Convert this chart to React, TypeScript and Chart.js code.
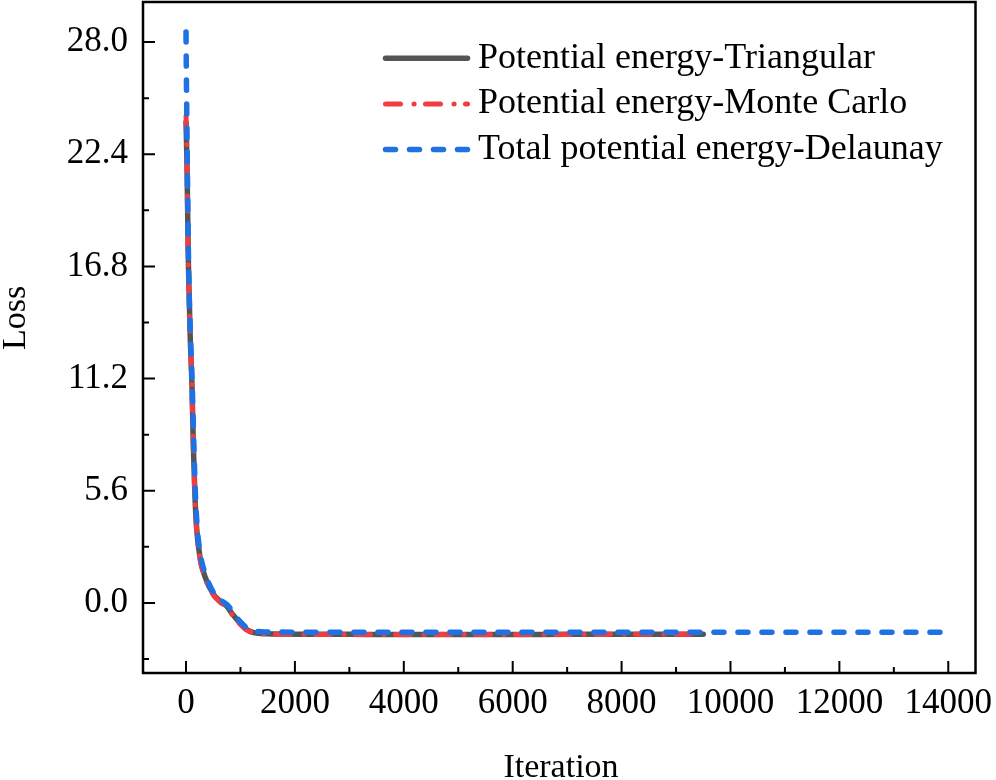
import React, { useEffect, useRef } from "react";
import { Chart, registerables } from "chart.js";

Chart.register(...registerables);

// ---- data ----
const seriesLabels = [
  "Potential energy-Triangular",
  "Potential energy-Monte Carlo",
  "Total potential energy-Delaunay",
];

const iterTri = [0, 15, 30, 45, 75, 110, 135, 165, 196, 256, 350, 500, 620, 745, 850, 990, 1100, 1230, 1500, 2000, 3000, 4000, 5000, 6000, 7000, 8000, 9000, 9500];
const lossTri = [24.0, 22.3, 19.6, 16.8, 13.5, 10.8, 7.8, 5.3, 3.7, 2.3, 1.3, 0.45, 0.1, -0.15, -0.55, -1.0, -1.3, -1.47, -1.54, -1.56, -1.57, -1.58, -1.58, -1.58, -1.57, -1.57, -1.56, -1.56];

const iterMC = [0, 12, 25, 42, 73, 105, 135, 165, 196, 256, 350, 500, 620, 745, 850, 990, 1100, 1230, 1500, 2000, 3000, 4000, 5000, 6000, 7000, 8000, 9000, 9500];
const lossMC = [24.3, 23.0, 20.1, 16.8, 13.5, 11.0, 7.8, 5.2, 3.6, 2.2, 1.25, 0.4, 0.05, -0.2, -0.6, -1.05, -1.33, -1.48, -1.55, -1.57, -1.58, -1.58, -1.58, -1.58, -1.58, -1.57, -1.57, -1.57];

const iterDel = [0, 8, 18, 30, 48, 80, 115, 145, 175, 205, 265, 360, 510, 630, 760, 870, 1000, 1120, 1250, 1500, 2000, 3000, 4000, 5000, 6000, 7000, 8000, 9000, 10000, 11000, 12000, 13000, 13850];
const lossDel = [28.5, 26.0, 23.5, 20.5, 16.8, 13.5, 10.8, 7.8, 5.3, 3.8, 2.4, 1.4, 0.5, 0.15, -0.1, -0.5, -0.95, -1.25, -1.4, -1.45, -1.46, -1.47, -1.47, -1.47, -1.47, -1.47, -1.47, -1.46, -1.46, -1.46, -1.46, -1.46, -1.46];

const xMajorTicks = [0, 2000, 4000, 6000, 8000, 10000, 12000, 14000];
const xMinorTicks = [1000, 3000, 5000, 7000, 9000, 11000, 13000];
const yMajorTicks = [0, 5.6, 11.2, 16.8, 22.4, 28.0];
const yMinorTicks = [-2.8, 2.8, 8.4, 14.0, 19.6, 25.2];

const xTitle = "Iteration";
const yTitle = "Loss";

const FONT = '"Liberation Serif", "Times New Roman", serif';

const toPoints = (xs: number[], ys: number[]) => xs.map((x, i) => ({ x, y: ys[i] }));

export default function App() {
  const ref = useRef<HTMLCanvasElement>(null);

  useEffect(() => {
    document.body.style.margin = "0";
    const canvas = ref.current;
    if (!canvas) return;

    const framePlugin = {
      id: "frameTicksLegend",
      afterDraw(chart: any) {
        const { ctx, chartArea: a, scales } = chart;
        const xs = scales.x;
        const ys = scales.y;
        ctx.save();
        ctx.strokeStyle = "#000";
        ctx.lineWidth = 2;
        ctx.lineCap = "butt";
        ctx.setLineDash([]);
        ctx.beginPath();
        for (const v of xMajorTicks) {
          const p = xs.getPixelForValue(v);
          ctx.moveTo(p, a.bottom);
          ctx.lineTo(p, a.bottom - 12);
        }
        for (const v of xMinorTicks) {
          const p = xs.getPixelForValue(v);
          ctx.moveTo(p, a.bottom);
          ctx.lineTo(p, a.bottom - 6);
        }
        for (const v of yMajorTicks) {
          const p = ys.getPixelForValue(v);
          ctx.moveTo(a.left, p);
          ctx.lineTo(a.left + 12, p);
        }
        for (const v of yMinorTicks) {
          const p = ys.getPixelForValue(v);
          ctx.moveTo(a.left, p);
          ctx.lineTo(a.left + 6, p);
        }
        ctx.stroke();
        ctx.lineWidth = 2.5;
        ctx.lineJoin = "miter";
        ctx.strokeRect(a.left, a.top, a.right - a.left, a.bottom - a.top);

        // legend
        const rows = [58.3, 104, 149.5];
        chart.data.datasets.forEach((ds: any, i: number) => {
          ctx.save();
          ctx.strokeStyle = ds.borderColor;
          ctx.lineWidth = ds.borderWidth;
          ctx.lineCap = ds.borderCapStyle || "butt";
          ctx.setLineDash(ds.borderDash || []);
          ctx.beginPath();
          ctx.moveTo(385.5, rows[i]);
          ctx.lineTo(467.5, rows[i]);
          ctx.stroke();
          ctx.restore();
          ctx.fillStyle = "#000";
          ctx.font = `36px ${FONT}`;
          ctx.textAlign = "left";
          ctx.textBaseline = "middle";
          ctx.fillText(ds.label, 478, rows[i]);
        });

        // axis titles
        ctx.fillStyle = "#000";
        ctx.font = `34px ${FONT}`;
        ctx.textAlign = "center";
        ctx.textBaseline = "alphabetic";
        ctx.fillText(xTitle, 561, 777);
        ctx.save();
        ctx.translate(25, 318);
        ctx.rotate(-Math.PI / 2);
        ctx.fillText(yTitle, 0, 0);
        ctx.restore();
        ctx.restore();
      },
    };

    const zeroPad = (s: any) => {
      s.paddingTop = 0;
      s.paddingBottom = 0;
      s.paddingLeft = 0;
      s.paddingRight = 0;
    };

    const chart = new Chart(canvas, {
      type: "line",
      data: {
        datasets: [
          {
            label: seriesLabels[0],
            data: toPoints(iterTri, lossTri),
            borderColor: "#545454",
            borderWidth: 5.5,
            borderCapStyle: "round",
            borderDash: [],
            order: 3,
          },
          {
            label: seriesLabels[1],
            data: toPoints(iterMC, lossMC),
            borderColor: "#f23d40",
            borderWidth: 5,
            borderCapStyle: "round",
            borderDash: [15, 13.5, 0.1, 11.4],
            order: 2,
          },
          {
            label: seriesLabels[2],
            data: toPoints(iterDel, lossDel),
            borderColor: "#1f72e4",
            borderWidth: 5.5,
            borderCapStyle: "round",
            borderDash: [10, 14],
            order: 1,
          },
        ] as any,
      },
      options: {
        animation: false,
        responsive: false,
        layout: { padding: { left: 0, top: 2, right: 20.5, bottom: 0 } },
        elements: {
          point: { radius: 0, hoverRadius: 0 },
          line: { cubicInterpolationMode: "monotone", fill: false },
        },
        plugins: {
          legend: { display: false },
          tooltip: { enabled: false },
        },
        scales: {
          x: {
            type: "linear",
            min: -790,
            max: 14500,
            grid: { display: false, drawTicks: false },
            border: { display: false },
            afterBuildTicks: (s: any) => {
              s.ticks = xMajorTicks.map((v) => ({ value: v }));
            },
            afterFit: (s: any) => {
              s.height = 107;
              zeroPad(s);
            },
            ticks: {
              autoSkip: false,
              maxRotation: 0,
              padding: 10,
              color: "#000",
              font: { family: FONT, size: 35 },
              callback: (v: any) => String(v),
            },
          },
          y: {
            type: "linear",
            min: -3.5,
            max: 30,
            grid: { display: false, drawTicks: false },
            border: { display: false },
            afterBuildTicks: (s: any) => {
              s.ticks = yMajorTicks.map((v) => ({ value: v }));
            },
            afterFit: (s: any) => {
              s.width = 143;
              zeroPad(s);
            },
            ticks: {
              autoSkip: false,
              padding: 15,
              color: "#000",
              font: { family: FONT, size: 35 },
              callback: (v: any) => Number(v).toFixed(1),
            },
          },
        },
      } as any,
      plugins: [framePlugin],
    });

    return () => chart.destroy();
  }, []);

  return <canvas ref={ref} width={996} height={780} style={{ display: "block" }} />;
}
